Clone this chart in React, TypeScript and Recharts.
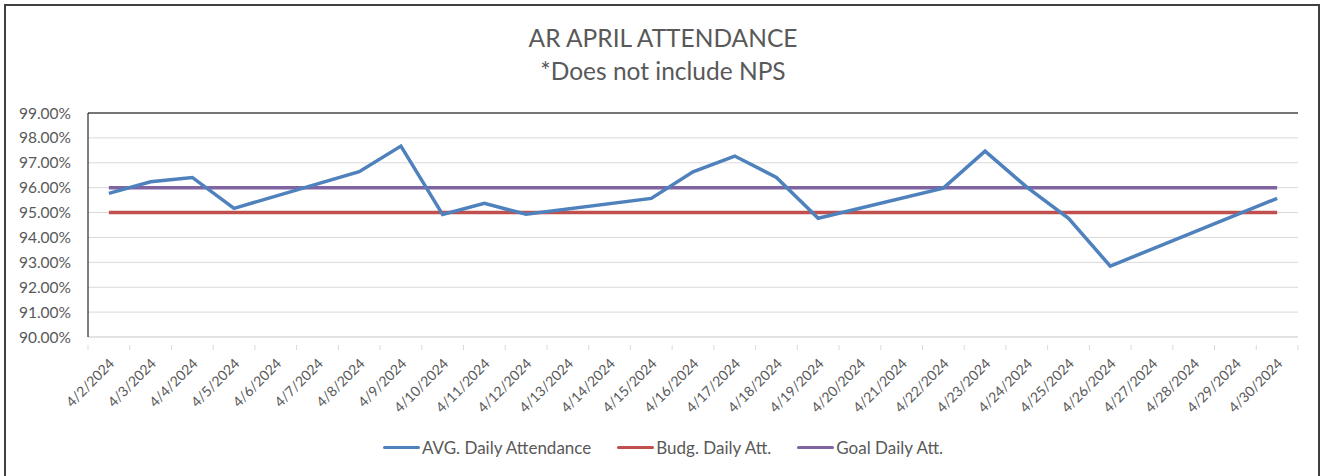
import { LineChart, Line, XAxis, YAxis, CartesianGrid, ReferenceLine } from 'recharts';

const dates = [
  '4/2/2024', '4/3/2024', '4/4/2024', '4/5/2024', '4/6/2024', '4/7/2024', '4/8/2024', '4/9/2024',
  '4/10/2024', '4/11/2024', '4/12/2024', '4/13/2024', '4/14/2024', '4/15/2024', '4/16/2024',
  '4/17/2024', '4/18/2024', '4/19/2024', '4/20/2024', '4/21/2024', '4/22/2024', '4/23/2024',
  '4/24/2024', '4/25/2024', '4/26/2024', '4/27/2024', '4/28/2024', '4/29/2024', '4/30/2024',
];

// weekends / days without data are null and get bridged
const avgAttendance = [
  95.77, 96.24, 96.41, 95.17, null, null, 96.64, 97.67,
  94.92, 95.37, 94.93, null, null, 95.57, 96.64,
  97.27, 96.41, 94.77, null, null, 95.98, 97.47,
  96.02, 94.77, 92.85, null, null, null, 95.57,
];

const budgetAtt = 95;
const goalAtt = 96;

const yTicks = [90, 91, 92, 93, 94, 95, 96, 97, 98, 99];

const data = dates.map((date, i) => ({
  date,
  avg: avgAttendance[i],
  budget: budgetAtt,
  goal: goalAtt,
}));

const FONT = 'Lato, "Open Sans", sans-serif';
const TEXT = '#595959';
const BLUE = '#4F81BD';
const RED = '#C0504D';
const PURPLE = '#8064A2';

const W = 1326;
const H = 476;
const M = { top: 113, right: 28, left: 0, bottom: 0 };
const Y_W = 88;
const X_H = 139;
const BAND = (W - M.right - Y_W) / dates.length;

function DateTick(props: any) {
  const { x, y, payload, index } = props;
  const last = index === dates.length - 1;
  return (
    <g>
      <line x1={x - BAND / 2} x2={x - BAND / 2} y1={y} y2={y + 5} stroke="#d9d9d9" />
      {last && <line x1={x + BAND / 2} x2={x + BAND / 2} y1={y} y2={y + 5} stroke="#d9d9d9" />}
      <text
        transform={`translate(${x + 3},${y + 16}) rotate(-45)`}
        textAnchor="end"
        dy="0.35em"
        fill={TEXT}
        fontSize={14}
        fontFamily={FONT}
      >
        {payload.value}
      </text>
    </g>
  );
}

const legendItems = [
  { label: 'AVG. Daily Attendance', color: BLUE },
  { label: 'Budg. Daily Att.', color: RED },
  { label: 'Goal Daily Att.', color: PURPLE },
];

export default function App() {
  return (
    <div style={{ position: 'absolute', left: 0, top: 0, width: W, height: H, background: '#fff', overflow: 'hidden', fontFamily: FONT }}>
      <div style={{ position: 'absolute', left: 4, top: 4, width: 1312, height: H + 10, border: '2px solid #404040' }} />
      <div style={{ position: 'absolute', left: 0, top: 21, width: W, textAlign: 'center', color: TEXT, fontSize: 24.5, lineHeight: '33px' }}>
        <div>AR APRIL ATTENDANCE</div>
        <div>*Does not include NPS</div>
      </div>
      <div style={{ position: 'absolute' }}>
        <LineChart width={W} height={H} data={data} margin={M}>
          <CartesianGrid vertical={false} stroke="#d9d9d9" />
          <XAxis
            dataKey="date"
            scale="band"
            interval={0}
            height={X_H}
            tickLine={false}
            axisLine={{ stroke: '#d9d9d9' }}
            tick={<DateTick />}
          />
          <YAxis
            domain={[90, 99]}
            ticks={yTicks}
            width={Y_W}
            tickSize={0}
            tickMargin={17}
            tickLine={false}
            axisLine={{ stroke: '#000' }}
            tick={{ fill: TEXT, fontSize: 15.5, fontFamily: FONT }}
            tickFormatter={(v: number) => `${v.toFixed(2)}%`}
          />
          <YAxis yAxisId="frame" orientation="right" width={0} tick={false} tickLine={false} axisLine={{ stroke: '#000' }} />
          <ReferenceLine y={99} stroke="#000" />
          <Line dataKey="budget" stroke={RED} strokeWidth={3.5} dot={false} isAnimationActive={false} />
          <Line dataKey="goal" stroke={PURPLE} strokeWidth={3.5} dot={false} isAnimationActive={false} />
          <Line dataKey="avg" stroke={BLUE} strokeWidth={3.5} dot={false} connectNulls isAnimationActive={false} />
        </LineChart>
      </div>
      <div style={{ position: 'absolute', left: 0, top: 437, width: W, display: 'flex', justifyContent: 'center', gap: 26, color: TEXT, fontSize: 17 }}>
        {legendItems.map((it) => (
          <div key={it.label} style={{ display: 'flex', alignItems: 'center' }}>
            <span style={{ display: 'inline-block', width: 37, height: 3.5, borderRadius: 2, background: it.color, marginRight: 2 }} />
            <span>{it.label}</span>
          </div>
        ))}
      </div>
    </div>
  );
}
